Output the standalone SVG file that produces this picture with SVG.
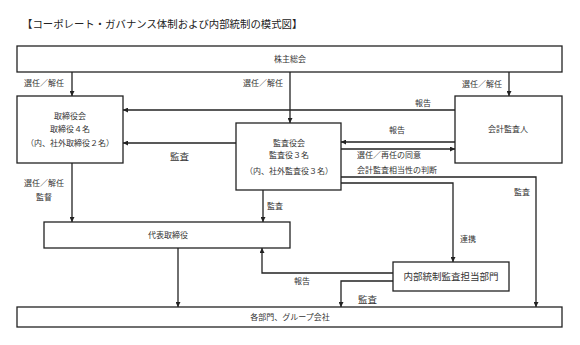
<svg xmlns="http://www.w3.org/2000/svg" width="580" height="345" viewBox="0 0 580 345">
<style>
text{font-family:"Noto Sans CJK JP","Noto Sans CJK SC",sans-serif;fill:#333;font-size:8px}
.t{font-size:10.4px;fill:#222}
.m{font-size:9.5px}
.b{fill:#fff;stroke:#222;stroke-width:1.3}
.c{fill:none;stroke:#222;stroke-width:1.3}
</style>
<defs>
<marker id="a" viewBox="0 0 10 10" refX="10" refY="5" markerWidth="5" markerHeight="5" orient="auto" markerUnits="userSpaceOnUse"><path d="M0,0L10,5L0,10z" fill="#222"/></marker>
</defs>
<rect width="580" height="345" fill="#fff"/>
<text class="t" x="22" y="28">【コーポレート・ガバナンス体制および内部統制の模式図】</text>
<g id="connectors">
<path class="c" d="M72,72V96" marker-end="url(#a)"/>
<path class="c" d="M290,72V123" marker-end="url(#a)"/>
<path class="c" d="M509,72V96" marker-end="url(#a)"/>
<path class="c" d="M455,110H123" marker-end="url(#a)"/>
<path class="c" d="M236,143H123" marker-end="url(#a)"/>
<path class="c" d="M455,142H341" marker-end="url(#a)"/>
<path class="c" d="M341,149H455" marker-end="url(#a)"/>
<path class="c" d="M341,177H536V307" marker-end="url(#a)"/>
<path class="c" d="M341,183H453V262" marker-end="url(#a)"/>
<path class="c" d="M263,190V222" marker-end="url(#a)"/>
<path class="c" d="M72,163V222" marker-end="url(#a)"/>
<path class="c" d="M178,248V307" marker-end="url(#a)"/>
<path class="c" d="M393,273H262V248" marker-end="url(#a)"/>
<path class="c" d="M393,281H341V307" marker-end="url(#a)"/>
<text x="24" y="86">選任／解任</text>
<text x="243" y="86">選任／解任</text>
<text x="462" y="87">選任／解任</text>
<text x="415" y="106">報告</text>
<text class="m" x="170" y="160">監査</text>
<text x="389" y="133">報告</text>
<text x="357" y="158">選任／再任の同意</text>
<text x="357" y="173">会計監査相当性の判断</text>
<text x="514" y="195">監査</text>
<text x="267" y="209">監査</text>
<text x="460" y="242">連携</text>
<text x="24" y="186">選任／解任</text>
<text x="36" y="200">監督</text>
<text x="294" y="284">報告</text>
<text class="m" x="358" y="303">監査</text>
</g>
<g id="kabunushi"><rect class="b" x="17" y="46" width="545" height="26"/><text x="290" y="62" text-anchor="middle">株主総会</text></g>
<g id="torishimariyakukai"><rect class="b" x="17" y="96" width="106" height="67"/><text x="70" y="119" text-anchor="middle">取締役会</text><text x="70" y="132" text-anchor="middle">取締役４名</text><text x="70" y="146" text-anchor="middle">（内、社外取締役２名）</text></g>
<g id="kansayakukai"><rect class="b" x="236" y="123" width="105" height="67"/><text x="289" y="146" text-anchor="middle">監査役会</text><text x="289" y="158" text-anchor="middle">監査役３名</text><text x="289" y="174" text-anchor="middle">（内、社外監査役３名）</text></g>
<g id="kaikeikansanin"><rect class="b" x="455" y="96" width="107" height="67"/><text x="508" y="132" text-anchor="middle">会計監査人</text></g>
<g id="daihyo"><rect class="b" x="44" y="222" width="246" height="26"/><text x="168" y="238" text-anchor="middle">代表取締役</text></g>
<g id="naibu"><rect class="b" x="393" y="262" width="116" height="29"/><text class="m" x="451" y="280" text-anchor="middle">内部統制監査担当部門</text></g>
<g id="kakubumon"><rect class="b" x="17" y="307" width="545" height="20"/><text x="290" y="320" text-anchor="middle">各部門、グループ会社</text></g>
</svg>
